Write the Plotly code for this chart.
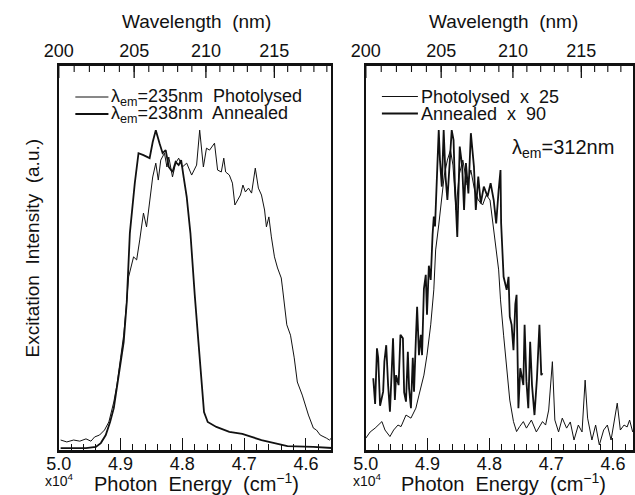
import plotly.graph_objects as go

# ---------------- data (photon energy in 10^4 cm^-1, intensity in a.u.) ----------------
left_photo_E = [4.997, 4.987, 4.976, 4.966, 4.956, 4.948, 4.942, 4.934, 4.926, 4.919, 4.911, 4.906,
                4.900, 4.895, 4.891, 4.887, 4.879, 4.874, 4.869, 4.863, 4.858, 4.853, 4.848, 4.843,
                4.839, 4.835, 4.829, 4.825, 4.822, 4.816, 4.811, 4.806, 4.800, 4.793, 4.785, 4.777,
                4.772, 4.766, 4.761, 4.756, 4.748, 4.743, 4.737, 4.733, 4.730, 4.724, 4.719, 4.715,
                4.711, 4.706, 4.702, 4.698, 4.693, 4.688, 4.682, 4.677, 4.672, 4.667, 4.664, 4.660,
                4.656, 4.651, 4.646, 4.640, 4.638, 4.631, 4.625, 4.619, 4.614, 4.606, 4.596, 4.588,
                4.583, 4.577, 4.567, 4.562, 4.557]
left_photo_I = [0.026, 0.021, 0.026, 0.023, 0.029, 0.023, 0.034, 0.039, 0.052, 0.073, 0.125, 0.169,
                0.240, 0.299, 0.370, 0.451, 0.503, 0.495, 0.547, 0.617, 0.581, 0.651, 0.711, 0.747,
                0.703, 0.755, 0.773, 0.737, 0.763, 0.711, 0.747, 0.760, 0.737, 0.747, 0.716, 0.742,
                0.833, 0.737, 0.786, 0.781, 0.799, 0.729, 0.724, 0.760, 0.724, 0.716, 0.695, 0.638,
                0.651, 0.664, 0.690, 0.672, 0.682, 0.669, 0.734, 0.682, 0.664, 0.625, 0.581, 0.607,
                0.555, 0.503, 0.474, 0.448, 0.422, 0.326, 0.299, 0.240, 0.177, 0.143, 0.091, 0.057,
                0.052, 0.039, 0.031, 0.026, 0.034]

left_anneal_E = [4.997, 4.956, 4.940, 4.932, 4.924, 4.917, 4.911, 4.906, 4.900, 4.895, 4.890, 4.885,
                 4.877, 4.871, 4.863, 4.858, 4.853, 4.848, 4.843, 4.837, 4.832, 4.827, 4.822, 4.816,
                 4.811, 4.806, 4.802, 4.798, 4.793, 4.787, 4.782, 4.780, 4.774, 4.769, 4.765, 4.759,
                 4.745, 4.724, 4.703, 4.688, 4.672, 4.651, 4.630, 4.588, 4.556]
left_anneal_I = [0.005, 0.005, 0.008, 0.018, 0.039, 0.073, 0.109, 0.161, 0.229, 0.281, 0.385, 0.565,
                 0.695, 0.773, 0.768, 0.763, 0.760, 0.802, 0.833, 0.799, 0.773, 0.781, 0.737, 0.724,
                 0.750, 0.742, 0.755, 0.711, 0.659, 0.565, 0.443, 0.404, 0.281, 0.169, 0.099, 0.073,
                 0.060, 0.047, 0.042, 0.034, 0.026, 0.018, 0.010, 0.008, 0.005]

right_photo_E = [5.000, 4.993, 4.985, 4.974, 4.969, 4.961, 4.955, 4.948, 4.943, 4.935, 4.927, 4.919,
                 4.914, 4.906, 4.901, 4.895, 4.890, 4.887, 4.882, 4.878, 4.873, 4.868, 4.863, 4.859,
                 4.854, 4.849, 4.843, 4.836, 4.830, 4.824, 4.818, 4.811, 4.805, 4.799, 4.793, 4.789,
                 4.785, 4.782, 4.777, 4.772, 4.767, 4.761, 4.756, 4.751, 4.745, 4.740, 4.732, 4.724,
                 4.714, 4.709, 4.704, 4.698, 4.694, 4.688, 4.682, 4.675, 4.669, 4.663, 4.656, 4.650,
                 4.645, 4.641, 4.634, 4.628, 4.622, 4.615, 4.609, 4.603, 4.598, 4.593, 4.588, 4.582,
                 4.577, 4.573, 4.568]
right_photo_I = [0.031, 0.047, 0.057, 0.074, 0.052, 0.035, 0.052, 0.065, 0.061, 0.091, 0.083, 0.109,
                 0.143, 0.195, 0.247, 0.326, 0.417, 0.521, 0.586, 0.651, 0.716, 0.755, 0.781, 0.742,
                 0.625, 0.716, 0.755, 0.690, 0.729, 0.677, 0.651, 0.638, 0.664, 0.651, 0.565, 0.521,
                 0.469, 0.391, 0.299, 0.208, 0.130, 0.074, 0.048, 0.061, 0.074, 0.057, 0.078, 0.047,
                 0.074, 0.065, 0.104, 0.230, 0.078, 0.047, 0.083, 0.057, 0.073, 0.026, 0.065, 0.047,
                 0.182, 0.083, 0.026, 0.065, 0.013, 0.052, 0.065, 0.026, 0.078, 0.122, 0.052, 0.065,
                 0.060, 0.078, 0.047]

right_anneal_E = [4.988, 4.985, 4.982, 4.980, 4.977, 4.974, 4.972, 4.970, 4.967, 4.964, 4.961, 4.958,
                  4.956, 4.953, 4.951, 4.947, 4.944, 4.940, 4.938, 4.935, 4.932, 4.930, 4.927, 4.924,
                  4.922, 4.919, 4.917, 4.914, 4.911, 4.909, 4.906, 4.903, 4.901, 4.898, 4.895, 4.892,
                  4.890, 4.888, 4.885, 4.882, 4.880, 4.877, 4.874, 4.871, 4.868, 4.864, 4.861, 4.858,
                  4.856, 4.852, 4.848, 4.844, 4.841, 4.838, 4.834, 4.830, 4.825, 4.822, 4.818, 4.814,
                  4.809, 4.803, 4.798, 4.793, 4.789, 4.785, 4.782, 4.781, 4.777, 4.772, 4.769, 4.767,
                  4.764, 4.761, 4.758, 4.756, 4.753, 4.750, 4.745, 4.743, 4.740, 4.737, 4.734, 4.731,
                  4.727, 4.723, 4.719, 4.716, 4.714]
right_anneal_I = [0.187, 0.120, 0.265, 0.240, 0.115, 0.143, 0.152, 0.230, 0.273, 0.170, 0.100, 0.210,
                  0.291, 0.130, 0.195, 0.169, 0.300, 0.291, 0.150, 0.126, 0.256, 0.160, 0.109, 0.240,
                  0.152, 0.290, 0.373, 0.247, 0.300, 0.247, 0.420, 0.456, 0.352, 0.480, 0.443, 0.560,
                  0.608, 0.582, 0.700, 0.833, 0.755, 0.686, 0.833, 0.712, 0.651, 0.760, 0.833, 0.807,
                  0.700, 0.555, 0.790, 0.738, 0.625, 0.747, 0.668, 0.825, 0.738, 0.625, 0.712, 0.642,
                  0.686, 0.660, 0.695, 0.651, 0.590, 0.677, 0.729, 0.591, 0.451, 0.417, 0.451, 0.347,
                  0.326, 0.260, 0.380, 0.404, 0.109, 0.213, 0.169, 0.326, 0.178, 0.109, 0.282, 0.169,
                  0.091, 0.187, 0.326, 0.195, 0.200]

legend_left = ["λ<sub>em</sub>=235nm  Photolysed", "λ<sub>em</sub>=238nm  Annealed"]
legend_right = ["Photolysed  x  25", "Annealed  x  90"]
energy_ticks = [5.0, 4.9, 4.8, 4.7, 4.6]
wavelength_major = [200, 205, 210, 215]
wavelength_minor = list(range(201, 220))

FONT = "Liberation Sans, Arial, sans-serif"
BLACK = "#111111"
W, H = 635, 495
THIN, THICK = 1.0, 1.8
Y_TOP = 1.0
PLOT_H_PX = 384.0          # height of the plotting area in pixels (450 - 66)


def px_x(p):
    return p / W


def px_y(p):
    return (H - p) / H


left_range = [5.0, 4.559]
right_range = [5.0, 4.5675]
ydom = [px_y(450), px_y(66)]
left_dom = [px_x(45), px_x(325)]
right_dom = [px_x(360.5), 1.0]

major_pos = [1000.0 / w for w in wavelength_major]   # wavelength (nm) -> 10^4 cm^-1
minor_pos = [1000.0 / w for w in wavelength_minor]


def tick_segments(positions, length_px, xmin):
    """Downward tick segments hanging from the top frame, in data units."""
    xs, ys = [], []
    for p in positions:
        if p >= xmin:
            xs += [p, p, None]
            ys += [Y_TOP, Y_TOP - length_px / PLOT_H_PX, None]
    return xs, ys


fig = go.Figure()

# invisible carrier traces so the top wavelength label axes are drawn
for xa, ya, rng in [("x3", "y3", left_range), ("x4", "y4", right_range)]:
    fig.add_trace(go.Scatter(x=rng, y=[-1, -1], mode="lines", xaxis=xa, yaxis=ya,
                             showlegend=False, hoverinfo="skip", line=dict(width=0)))

fig.add_trace(go.Scatter(x=left_photo_E, y=left_photo_I, mode="lines",
                         line=dict(color=BLACK, width=THIN), name=legend_left[0],
                         xaxis="x", yaxis="y", showlegend=False))
fig.add_trace(go.Scatter(x=left_anneal_E, y=left_anneal_I, mode="lines",
                         line=dict(color=BLACK, width=THICK), name=legend_left[1],
                         xaxis="x", yaxis="y", showlegend=False))
fig.add_trace(go.Scatter(x=right_photo_E, y=right_photo_I, mode="lines",
                         line=dict(color=BLACK, width=THIN), name=legend_right[0],
                         xaxis="x2", yaxis="y2", showlegend=False))
fig.add_trace(go.Scatter(x=right_anneal_E, y=right_anneal_I, mode="lines",
                         line=dict(color=BLACK, width=THICK), name=legend_right[1],
                         xaxis="x2", yaxis="y2", showlegend=False))

# wavelength tick marks on the top frame of each panel
for xa, ya, rng in [("x", "y", left_range), ("x2", "y2", right_range)]:
    xmin = min(rng)
    for positions, length, width in [(major_pos, 12, 1.3), (minor_pos, 6, 1.1)]:
        tx, ty = tick_segments(positions, length, xmin)
        fig.add_trace(go.Scatter(x=tx, y=ty, mode="lines", xaxis=xa, yaxis=ya,
                                 line=dict(color=BLACK, width=width), showlegend=False,
                                 hoverinfo="skip", connectgaps=False, cliponaxis=False))

bottom_common = dict(
    tickmode="array", tickvals=energy_ticks, tickformat=".1f",
    ticks="inside", ticklen=12, tickwidth=1.2, tickcolor=BLACK,
    minor=dict(dtick=0.02, tick0=5.0, ticks="inside", ticklen=6, tickwidth=1, tickcolor=BLACK),
    showline=True, linewidth=2.5, linecolor=BLACK, mirror=True,
    showgrid=False, zeroline=False,
    tickfont=dict(family=FONT, size=18, color=BLACK), ticklabelstandoff=-4,
)
top_labels = dict(
    side="top", tickmode="array", tickvals=major_pos,
    ticktext=[str(w) for w in wavelength_major],
    ticks="", showline=True, linewidth=2, linecolor=BLACK,
    showgrid=False, zeroline=False,
    tickfont=dict(family=FONT, size=18, color=BLACK),
)
y_common = dict(range=[0, Y_TOP], domain=ydom, showline=True, linewidth=2, linecolor=BLACK,
                mirror=True, showticklabels=False, ticks="", showgrid=False, zeroline=False)
y_hidden = dict(range=[0, Y_TOP], domain=ydom, showline=False, showticklabels=False, ticks="",
                showgrid=False, zeroline=False)

fig.update_layout(
    width=W, height=H, margin=dict(l=0, r=0, t=0, b=0),
    paper_bgcolor="white", plot_bgcolor="rgba(0,0,0,0)",
    font=dict(family=FONT, size=18, color=BLACK),
    xaxis=dict(domain=left_dom, range=left_range, anchor="y", **bottom_common),
    xaxis2=dict(domain=right_dom, range=right_range, anchor="y2", **bottom_common),
    xaxis3=dict(domain=left_dom, range=left_range, anchor="y3", **top_labels),
    xaxis4=dict(domain=right_dom, range=right_range, anchor="y4", **top_labels),
    yaxis=dict(anchor="x", **y_common),
    yaxis2=dict(anchor="x2", **y_common),
    yaxis3=dict(anchor="x3", **y_hidden),
    yaxis4=dict(anchor="x4", **y_hidden),
    showlegend=False,
)

# legend keys (thin = photolysed, thick = annealed)
legend_rows = [(97, THIN), (114, THICK)]
for (yy, wd), txt in zip(legend_rows, legend_left):
    fig.add_shape(type="line", xref="paper", yref="paper", x0=px_x(62), x1=px_x(96),
                  y0=px_y(yy), y1=px_y(yy), line=dict(color=BLACK, width=wd))
    fig.add_annotation(text=txt, x=px_x(97), y=px_y(yy), xref="paper", yref="paper",
                       showarrow=False, xanchor="left", yanchor="middle",
                       font=dict(family=FONT, size=18, color=BLACK))
for (yy, wd), txt in zip(legend_rows, legend_right):
    fig.add_shape(type="line", xref="paper", yref="paper", x0=px_x(377), x1=px_x(414),
                  y0=px_y(yy - 0.5), y1=px_y(yy - 0.5), line=dict(color=BLACK, width=wd))
    fig.add_annotation(text=txt, x=px_x(415), y=px_y(yy - 0.5), xref="paper", yref="paper",
                       showarrow=False, xanchor="left", yanchor="middle",
                       font=dict(family=FONT, size=18, color=BLACK))

ann = [
    dict(text="Excitation  Intensity  (a.u.)", x=px_x(17), y=px_y(248), textangle=-90, size=19),
    dict(text="Wavelength  (nm)", x=px_x(187), y=px_y(22), size=19),
    dict(text="Wavelength  (nm)", x=px_x(502), y=px_y(22), size=19),
    dict(text="Photon  Energy  (cm<sup>−1</sup>)", x=px_x(186), y=px_y(482), size=20),
    dict(text="Photon  Energy  (cm<sup>−1</sup>)", x=px_x(502), y=px_y(482), size=20),
    dict(text="x10<sup>4</sup>", x=px_x(46), y=px_y(480), size=14),
    dict(text="x10<sup>4</sup>", x=px_x(362), y=px_y(480), size=14),
    dict(text="λ<sub>em</sub>=312nm", x=px_x(563), y=px_y(148), size=20),
]
for a in ann:
    fig.add_annotation(text=a["text"], x=a["x"], y=a["y"], xref="paper", yref="paper",
                       showarrow=False, textangle=a.get("textangle", 0),
                       font=dict(family=FONT, size=a["size"], color=BLACK),
                       xanchor="center", yanchor="middle")

fig.write_html("out.html")
